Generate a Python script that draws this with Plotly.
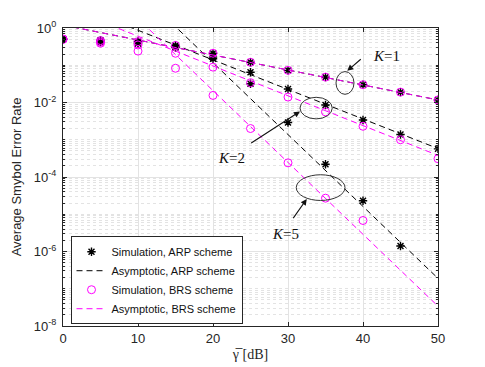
import plotly.graph_objects as go

# SNR grid (dB)
snr = [0, 5, 10, 15, 20, 25, 30, 35, 40, 45, 50]
snr_asym = [0, 50]

# simulated SER, ARP scheme
arp_k1 = [0.50, 0.47, 0.44, 0.34, 0.21, 0.12, 0.073, 0.048, 0.030, 0.019, 0.0117]
arp_k2 = [0.50, 0.44, 0.40, 0.31, 0.165, 0.065, 0.023, 0.0086, 0.0034, 0.00138, 0.00057]
arp_k5 = [0.50, 0.42, 0.38, 0.30, 0.15, 0.032, 0.0029, 0.00022, 2.3e-5, 1.4e-6]

# simulated SER, BRS scheme
brs_k1 = [0.50, 0.46, 0.43, 0.34, 0.21, 0.12, 0.073, 0.048, 0.030, 0.019, 0.0117]
brs_k2 = [0.50, 0.42, 0.35, 0.21, 0.089, 0.034, 0.014, 0.0056, 0.0023, 0.0010, 0.00031]
brs_k5 = [0.50, 0.39, 0.24, 0.083, 0.0155, 0.0020, 0.00024, 2.7e-5, 6.8e-6]

# asymptotic curves (values at 0 dB and 50 dB)
asym_arp_k1 = [1.2, 0.0117]
asym_arp_k2 = [5.4, 0.00058]
asym_arp_k5 = [851, 1.9e-7]
asym_brs_k1 = [1.2, 0.0117]
asym_brs_k2 = [3.8, 0.00038]
asym_brs_k5 = [151, 3.4e-8]

ytick_vals = [1e-8, 1e-6, 1e-4, 1e-2, 1]
ytick_text = ["10<sup>-8</sup>", "10<sup>-6</sup>", "10<sup>-4</sup>", "10<sup>-2</sup>", "10<sup>0</sup>"]

PRETO = "#000000"
MAGENTA = "#FF00FF"
DASH = "6px,4px"

fig = go.Figure()


def sim(y, nome, simbolo, cor, grupo, mostra):
    estrela = simbolo == "asterisk"
    fig.add_trace(go.Scatter(
        x=snr[:len(y)], y=y, mode="markers", name=nome,
        legendgroup=grupo, showlegend=mostra,
        marker=dict(symbol=simbolo, size=7 if estrela else 8, color=cor,
                    line=dict(color=cor, width=1.4 if estrela else 1)),
    ))


def asym(y, nome, cor, grupo, mostra):
    fig.add_trace(go.Scatter(
        x=snr_asym, y=y, mode="lines", name=nome,
        legendgroup=grupo, showlegend=mostra,
        line=dict(color=cor, width=1, dash=DASH),
    ))


sim(arp_k1, "Simulation, ARP scheme", "asterisk", PRETO, "sa", True)
sim(arp_k2, "Simulation, ARP scheme", "asterisk", PRETO, "sa", False)
sim(arp_k5, "Simulation, ARP scheme", "asterisk", PRETO, "sa", False)
asym(asym_arp_k1, "Asymptotic, ARP scheme", PRETO, "aa", True)
asym(asym_arp_k2, "Asymptotic, ARP scheme", PRETO, "aa", False)
asym(asym_arp_k5, "Asymptotic, ARP scheme", PRETO, "aa", False)
sim(brs_k1, "Simulation, BRS scheme", "circle-open", MAGENTA, "sb", True)
sim(brs_k2, "Simulation, BRS scheme", "circle-open", MAGENTA, "sb", False)
sim(brs_k5, "Simulation, BRS scheme", "circle-open", MAGENTA, "sb", False)
asym(asym_brs_k1, "Asymptotic, BRS scheme", MAGENTA, "ab", True)
asym(asym_brs_k2, "Asymptotic, BRS scheme", MAGENTA, "ab", False)
asym(asym_brs_k5, "Asymptotic, BRS scheme", MAGENTA, "ab", False)

# ellipses marking each K group (x in dB, y as log10 of the value)
elipses = [(36.4, 38.8, -1.17, -1.78), (31.6, 35.9, -1.86, -2.44), (31.1, 37.6, -3.94, -4.63)]
for x0, x1, y0, y1 in elipses:
    fig.add_shape(type="circle", xref="x", yref="y", x0=x0, x1=x1, y0=10 ** y0, y1=10 ** y1,
                  line=dict(color="#333333", width=1))

# arrows + labels (annotation coords on the log axis are log10)
setas = [("<i>K</i>=1", 37.9, -1.15, 40.1, -0.77, 43.1, -0.75),
         ("<i>K</i>=2", 31.6, -2.24, 24.7, -3.14, 22.5, -3.49),
         ("<i>K</i>=5", 32.5, -4.59, 30.3, -5.22, 29.7, -5.52)]
for txt, hx, hy, tx, ty, lx, ly in setas:
    fig.add_annotation(x=hx, y=hy, ax=tx, ay=ty, xref="x", yref="y", axref="x", ayref="y",
                       text=" ", showarrow=True, arrowhead=2, arrowsize=1.1, arrowwidth=1.1,
                       arrowcolor="#111111", standoff=0, startstandoff=0)
    fig.add_annotation(x=lx, y=ly, xref="x", yref="y", text=txt, showarrow=False,
                       font=dict(family="Liberation Serif", size=15, color="#111111"))

eixo = dict(showline=True, linecolor="#262626", linewidth=1, mirror="allticks",
            ticks="inside", ticklen=4, tickcolor="#262626", automargin=False,
            showgrid=True, gridcolor="#e3e3e3", gridwidth=1, zeroline=False,
            tickfont=dict(family="Liberation Sans", size=13, color="#262626"))

fig.update_xaxes(**eixo, range=[0, 50], tickvals=[0, 10, 20, 30, 40, 50],
                 title=dict(text="γ\u0305 [dB]", standoff=4,
                            font=dict(family="Liberation Serif", size=14, color="#262626")))
fig.update_yaxes(**eixo, type="log", range=[-8, 0], tickvals=ytick_vals, ticktext=ytick_text,
                 ticklabelstandoff=3,
                 minor=dict(dtick="D1", showgrid=True, griddash="dot", gridcolor="#e3e3e3",
                            ticks="inside", ticklen=2, tickcolor="#262626"),
                 title=dict(text="Average Smybol Error Rate", standoff=9,
                            font=dict(family="Liberation Sans", size=13, color="#262626")))

# the page body adds an 8px margin, so the figure is sized to fit inside the window
fig.update_layout(
    width=477, height=359,
    margin=dict(l=55, r=47, t=20, b=41),
    paper_bgcolor="white", plot_bgcolor="white",
    showlegend=True,
    legend=dict(x=0.02, y=0.006, xanchor="left", yanchor="bottom",
                bgcolor="white", bordercolor="#262626", borderwidth=1,
                font=dict(family="Liberation Sans", size=11, color="#111111"),
                itemwidth=30, tracegroupgap=0),
)

fig.write_html("out.html")
